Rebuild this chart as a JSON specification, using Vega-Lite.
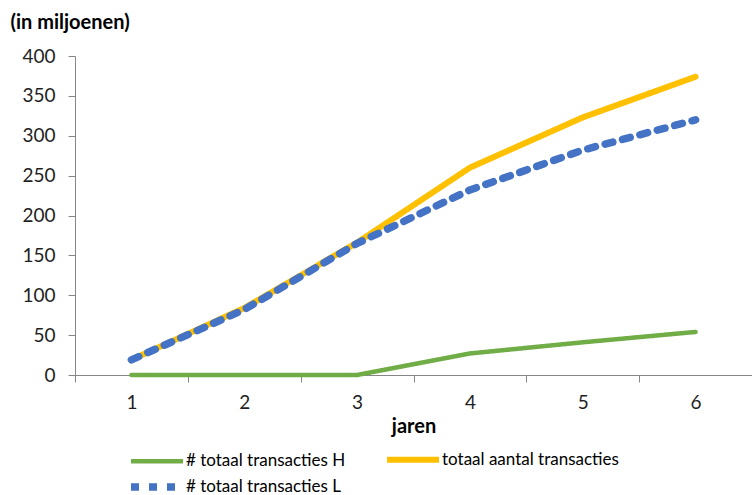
{
  "$schema": "https://vega.github.io/schema/vega-lite/v6.json",
  "width": 677,
  "height": 319,
  "autosize": {"type": "none"},
  "padding": {"left": 75, "top": 56, "right": 0, "bottom": 120},
  "background": "white",
  "config": {
    "view": {"stroke": null},
    "font": "Lato",
    "axis": {"grid": false, "domainColor": "#868686", "tickColor": "#868686", "labelColor": "#1f1f1f", "titleColor": "#000000", "labelFont": "Lato", "titleFont": "Lato"}
  },
  "data": {
    "values": [
      {"jaar": "1", "reeks": "# totaal transacties H", "waarde": 0},
      {"jaar": "2", "reeks": "# totaal transacties H", "waarde": 0},
      {"jaar": "3", "reeks": "# totaal transacties H", "waarde": 0},
      {"jaar": "4", "reeks": "# totaal transacties H", "waarde": 27},
      {"jaar": "5", "reeks": "# totaal transacties H", "waarde": 41},
      {"jaar": "6", "reeks": "# totaal transacties H", "waarde": 54},
      {"jaar": "1", "reeks": "totaal aantal transacties", "waarde": 19},
      {"jaar": "2", "reeks": "totaal aantal transacties", "waarde": 84},
      {"jaar": "3", "reeks": "totaal aantal transacties", "waarde": 166},
      {"jaar": "4", "reeks": "totaal aantal transacties", "waarde": 260},
      {"jaar": "5", "reeks": "totaal aantal transacties", "waarde": 323},
      {"jaar": "6", "reeks": "totaal aantal transacties", "waarde": 374},
      {"jaar": "1", "reeks": "# totaal transacties L", "waarde": 19},
      {"jaar": "2", "reeks": "# totaal transacties L", "waarde": 82},
      {"jaar": "3", "reeks": "# totaal transacties L", "waarde": 165},
      {"jaar": "4", "reeks": "# totaal transacties L", "waarde": 232},
      {"jaar": "5", "reeks": "# totaal transacties L", "waarde": 282},
      {"jaar": "6", "reeks": "# totaal transacties L", "waarde": 320}
    ]
  },
  "encoding": {
    "x": {
      "field": "jaar", "type": "ordinal", "bandPosition": 0.5,
      "scale": {"type": "band", "paddingInner": 0, "paddingOuter": 0},
      "axis": {"title": "jaren", "labelAngle": 0, "tickBand": "extent", "tickSize": 7, "labelPadding": 11, "labelFontSize": 19, "titleFontSize": 20, "titleFontWeight": "bold", "titlePadding": 4}
    },
    "y": {
      "field": "waarde", "type": "quantitative",
      "scale": {"domain": [0, 400], "nice": false},
      "axis": {"values": [0, 50, 100, 150, 200, 250, 300, 350, 400], "tickSize": 7, "labelPadding": 13, "labelFontSize": 19, "title": "(in miljoenen)", "titleAngle": 0, "titleAlign": "left", "titleBaseline": "middle", "titleX": -65, "titleY": -34, "titleFontSize": 20, "titleFontWeight": "bold"}
    },
    "color": {
      "field": "reeks", "type": "nominal",
      "scale": {"domain": ["# totaal transacties H", "totaal aantal transacties", "# totaal transacties L"], "range": ["#70AD47", "#FFC000", "#4472C4"]},
      "legend": {"title": null, "orient": "none", "legendX": 73, "legendY": 395, "direction": "horizontal", "columns": 2, "columnPadding": 29, "symbolType": "M-5.2,0H5.2", "symbolSize": 100, "labelFontSize": 17, "labelFont": "Lato", "labelColor": "#000000", "labelOffset": 20, "labelLimit": 0, "rowPadding": 0}
    },
    "strokeWidth": {
      "field": "reeks", "type": "nominal",
      "scale": {"domain": ["# totaal transacties H", "totaal aantal transacties", "# totaal transacties L"], "range": [4.5, 7.5, 4.5]}
    },
    "strokeDash": {
      "field": "reeks", "type": "nominal",
      "scale": {"domain": ["# totaal transacties H", "totaal aantal transacties", "# totaal transacties L"], "range": [[1, 0], [1, 0], [8, 10]]}
    }
  },
  "layer": [
    {
      "transform": [{"filter": "datum.reeks !== '# totaal transacties L'"}],
      "mark": {"type": "line", "strokeCap": "round", "strokeJoin": "round"}
    },
    {
      "transform": [{"filter": "datum.reeks === '# totaal transacties L'"}],
      "mark": {"type": "line", "strokeCap": "round", "strokeJoin": "round"}
    }
  ]
}
